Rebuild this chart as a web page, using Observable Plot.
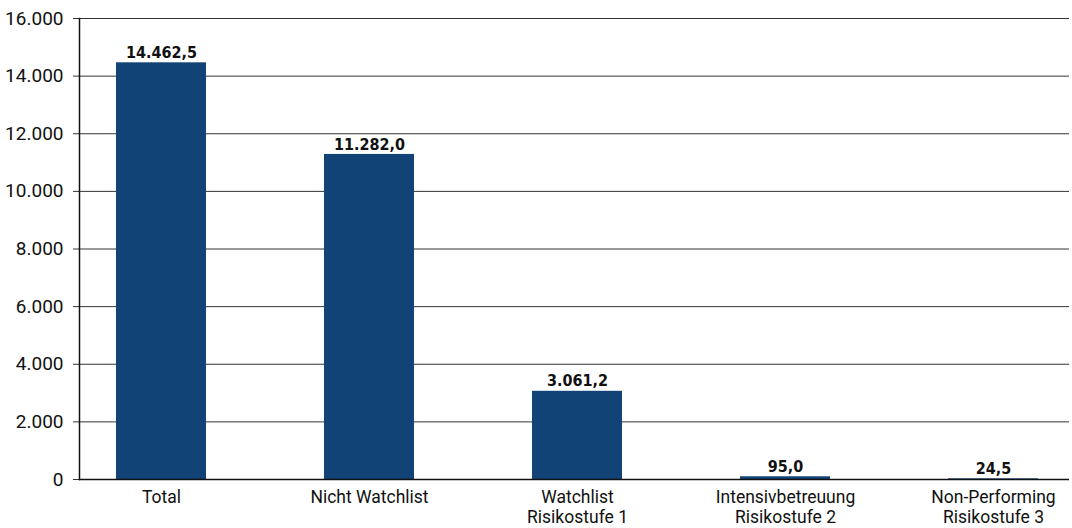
<!DOCTYPE html>
<html><head><meta charset="utf-8">
<script src="https://cdn.jsdelivr.net/npm/d3@7"></script>
<script src="https://cdn.jsdelivr.net/npm/@observablehq/plot@0.6"></script>
<style>
body{margin:0;background:#fff;}
g[aria-label="y-axis tick label"], g[aria-label="y-axis tick label"] text { font-size: 19px !important; }
g[aria-label="x-axis tick label"], g[aria-label="x-axis tick label"] text { font-size: 17.5px !important; }
</style>
</head><body><div id="chart"></div>
<script>
const categories = ["Total", "Nicht Watchlist", "Watchlist\nRisikostufe 1", "Intensivbetreuung\nRisikostufe 2", "Non-Performing\nRisikostufe 3"];
const values = [14462.5, 11282.0, 3061.2, 95.0, 24.5];
const yTicks = [0, 2000, 4000, 6000, 8000, 10000, 12000, 14000, 16000];

const de = d3.formatLocale({decimal: ",", thousands: ".", grouping: [3], currency: ["", " €"]});
const fmtVal = de.format(",.1f");
const fmtTick = de.format(",.0f");
const data = categories.map((c, i) => ({cat: c, value: values[i]}));

const chart = Plot.plot({
  width: 1072, height: 528,
  marginLeft: 79, marginRight: 3, marginTop: 18, marginBottom: 49,
  style: {fontFamily: "Roboto, sans-serif", fontSize: "17.5px", color: "#111"},
  x: {domain: categories, range: [56, 1099], paddingInner: 0.565, paddingOuter: 0.2825, align: 0.5, label: null},
  y: {domain: [0, 16000], label: null},
  marks: [
    Plot.ruleY(yTicks.filter(d => d > 0), {stroke: "#333", strokeWidth: 1}),
    Plot.axisY(yTicks, {tickSize: 6, tickPadding: 10, tickFormat: fmtTick, fontSize: 19, stroke: "#333", label: null}),
    Plot.barY(data, {x: "cat", y: "value", fill: "#124377"}),
    Plot.ruleY([0], {stroke: "#111", strokeWidth: 1.5}),
    Plot.frame({anchor: "left", stroke: "#111", strokeWidth: 1.5}),
    Plot.text(data, {x: "cat", y: "value", text: d => fmtVal(d.value), dy: -10, fontWeight: "bold", fontSize: 16, fontFamily: "'DejaVu Sans Condensed', sans-serif", fill: "#111"}),
    Plot.axisX({tickSize: 0, tickPadding: 10, fontSize: 17.5, lineHeight: 1.12, label: null})
  ]
});
document.getElementById("chart").append(chart);
</script>
</body></html>
